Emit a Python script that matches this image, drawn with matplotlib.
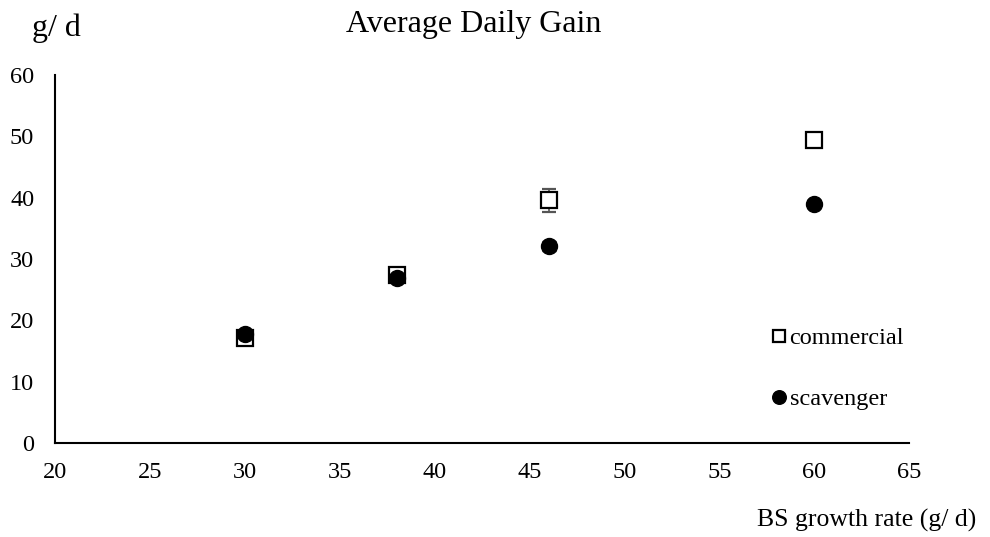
import matplotlib.pyplot as plt

plt.rcParams['font.family'] = ['Liberation Serif', 'DejaVu Serif']

# data
growth_rate = [30, 38, 46, 60]
commercial = [17.1, 27.4, 39.6, 49.5]
commercial_err = [0.5, 0.6, 1.9, 0.7]
scavenger = [17.8, 26.9, 32.1, 39.0]
scavenger_err = [0.4, 0.5, 0.8, 0.4]

fig = plt.figure(figsize=(9.9, 5.37), dpi=100)
ax = fig.add_axes([0.0556, 0.175, 0.863, 0.685])

ax.errorbar(growth_rate, commercial, yerr=commercial_err, fmt='s', ms=11,
            mfc='white', mec='black', mew=1.6, ecolor='#555555', elinewidth=1.2,
            capsize=5, label='commercial', zorder=2)
ax.errorbar(growth_rate, scavenger, yerr=scavenger_err, fmt='o', ms=11.5,
            mfc='black', mec='black', ecolor='#555555', elinewidth=1.2,
            capsize=5, label='scavenger', zorder=3)

ax.set_xlim(20, 65)
ax.set_ylim(0, 60)
ax.set_xticks(range(20, 66, 5))
ax.set_yticks(range(0, 61, 10))
ax.tick_params(length=0, labelsize=17.5)
ax.tick_params(axis='x', pad=14)
ax.tick_params(axis='y', pad=15)
ax.spines['top'].set_visible(False)
ax.spines['right'].set_visible(False)
ax.spines['left'].set_linewidth(1.5)
ax.spines['bottom'].set_linewidth(1.5)

fig.text(0.478, 0.955, 'Average Daily Gain', ha='center', va='center', fontsize=23)
fig.text(0.057, 0.948, 'g/ d', ha='center', va='center', fontsize=23)
fig.text(0.875, 0.03, 'BS growth rate (g/ d)', ha='center', va='center', fontsize=18.5)

handles, labels = ax.get_legend_handles_labels()
handles = [h[0] for h in handles]
ax.legend(handles, labels, loc='lower left', bbox_to_anchor=(0.8, 0.03),
          frameon=False, fontsize=17.5, handletextpad=-0.3, labelspacing=1.6,
          handlelength=1.5, markerscale=0.85)

fig.savefig('out.png', dpi=100)
